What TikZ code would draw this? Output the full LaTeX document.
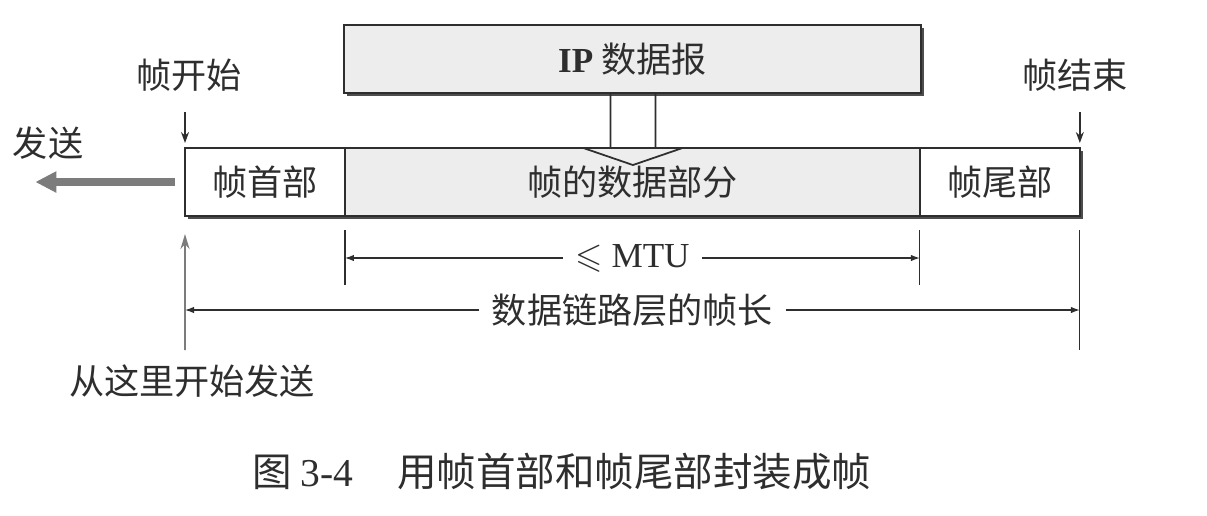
\documentclass[tikz,border=0pt]{standalone}
\usepackage{fontspec}
\usepackage{amssymb}
\setmainfont{Liberation Serif}
\newfontfamily\cjk{Noto Sans CJK SC}
\usetikzlibrary{
  positioning,
  arrows.meta,
  calc,
  shadows
}
\definecolor{inkGray}{HTML}{2E2E2E}
\definecolor{boxFill}{HTML}{EDEDED}
\definecolor{sendGray}{HTML}{7C7C7C}
\tikzset{
  field/.style      = {rectangle, draw=inkGray, line width=0.8pt,
                       minimum height=1.36cm, inner sep=0pt, outer sep=0pt,
                       font=\cjk\fontsize{20}{23}\selectfont, text=inkGray,
                       drop shadow={shadow xshift=1.6pt, shadow yshift=-1.6pt,
                                    fill=inkGray!85, opacity=1}},
  dataField/.style  = {field, fill=boxFill},
  plainField/.style = {field, fill=white},
  tag/.style        = {font=\cjk\fontsize{20}{23}\selectfont, text=inkGray,
                       inner sep=2pt},
  dimLabel/.style   = {tag, inner sep=7pt},
  markArrow/.style  = {-{Stealth[length=2.2mm, width=1.6mm]}, line width=0.9pt,
                       draw=inkGray},
  sendArrow/.style  = {-{Triangle[length=4.2mm, width=4mm]}, line width=5pt,
                       draw=sendGray},
  upArrow/.style    = {-{Stealth[length=3mm, width=1.8mm]}, line width=1.1pt,
                       draw=sendGray},
  dimArrow/.style   = {-{Latex[length=1.8mm, width=1.3mm]}, line width=0.7pt,
                       draw=inkGray},
  dimTick/.style    = {line width=0.7pt, draw=inkGray},
  hollowArrow/.style= {line width=1pt, draw=inkGray, line join=miter}
}

\begin{document}
\begin{tikzpicture}[x=0.02cm, y=-0.02cm]
\useasboundingbox (0,0) rectangle (1207,515);

% the frame
\node[plainField, minimum width=3.2cm] (header) at (265,182) {帧首部};
\node[dataField, minimum width=11.5cm, right=0pt of header] (data) {帧的数据部分};
\node[plainField, minimum width=3.2cm, right=0pt of data] (trailer) {帧尾部};
\node[dataField, minimum width=11.54cm, above=1.1cm of data]
  (ip) {{\rmfamily\bfseries IP} 数据报};

% IP datagram goes into the data part
\draw[hollowArrow] ($(ip.south)+(-22,0)$) -- ++(0,55) -- ++(-27,0)
  -- ++(49.5,17) -- ++(49.5,-17) -- ++(-27,0) -- ++(0,-55);

% start and end of the frame
\node[tag] (fstart) at (189,75) {帧开始};
\node[tag] (fend) at (1075,75) {帧结束};
\draw[markArrow] ($(header.north west)+(0,-36)$) -- ($(header.north west)+(0,-5)$);
\draw[markArrow] ($(trailer.north east)+(0,-36)$) -- ($(trailer.north east)+(0,-5)$);

% sending
\node[tag] (send) at (48,143) {发送};
\draw[sendArrow] ([xshift=-5.5pt]header.west) -- ++(-140,0);
\coordinate (sendFrom) at (185,350);
\draw[upArrow] (sendFrom) -- ($(header.south west)+(0,18)$);
\node[tag] (sendHere) at (192,381) {从这里开始发送};

% MTU
\node[dimLabel] (mtu) at (632.5,258) {{\rmfamily$\leqslant$ MTU}};
\draw[dimTick] ($(data.south west)+(0,14)$) -- ++(0,55);
\draw[dimTick] ($(data.south east)+(0,14)$) -- ++(0,55);
\draw[dimArrow] (mtu.west) -- (mtu.west -| data.south west);
\draw[dimArrow] (mtu.east) -- (mtu.east -| data.south east);

% frame length
\node[dimLabel] (flen) at (632.5,310) {数据链路层的帧长};
\draw[dimTick] ($(trailer.south east)+(0,14)$) -- ++(0,120);
\draw[dimArrow] (flen.west) -- (flen.west -| header.south west);
\draw[dimArrow] (flen.east) -- (flen.east -| trailer.south east);

% caption
\node[tag, font=\cjk\fontsize{22.5}{26}\selectfont] (caption) at (562,472)
  {图 {\rmfamily 3-4}\hspace{1.1em}用帧首部和帧尾部封装成帧};
\end{tikzpicture}
\end{document}
